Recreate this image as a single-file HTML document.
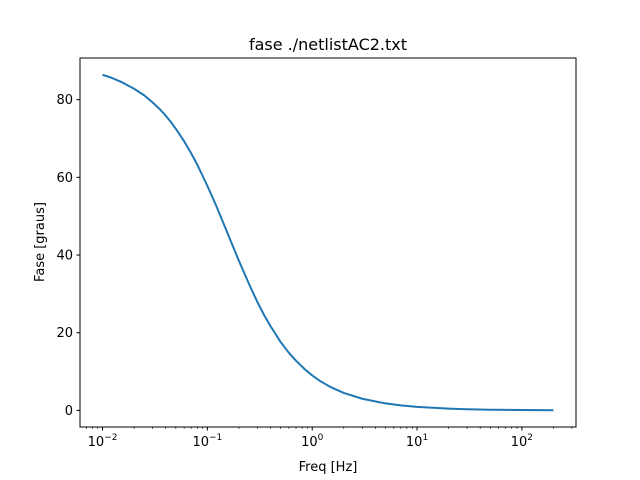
<!DOCTYPE html>
<html><head><meta charset="utf-8"><style>
body{margin:0;background:#fff;}
svg{display:block;font-family:"DejaVu Sans","Liberation Sans",sans-serif;}
</style></head><body>
<svg id="chart" width="640" height="480">
<rect width="640" height="480" fill="#fff"/>
<text x="328" y="50" font-size="16" text-anchor="middle">fase ./netlistAC2.txt</text>
<g id="ticks"></g>
<path id="curve" fill="none" stroke="#1f77b4" stroke-width="2" stroke-linejoin="round"/>
<rect x="80" y="58" width="496" height="369" fill="none" stroke="#000" stroke-width="1"/>
<text x="328" y="471" font-size="13" text-anchor="middle">Freq [Hz]</text>
<text transform="translate(44,242) rotate(-90)" font-size="13" text-anchor="middle">Fase [graus]</text>
</svg>
<script>
const freqs=[0.01,0.012,0.015,0.02,0.025,0.03,0.035,0.04,0.045,0.05,0.06,0.07,0.08,0.1,0.12,0.15,0.17,0.2,0.25,0.3,0.35,0.4,0.5,0.6,0.7,0.85,1,1.2,1.5,2,3,5,7,10,20,30,50,100,200];
const phase=[86.4,85.7,84.6,82.8,81.1,79.3,77.6,75.9,74.2,72.5,69.3,66.2,63.3,57.8,53.0,46.7,43.1,38.5,32.5,27.9,24.4,21.7,17.6,14.8,12.8,10.6,9.0,7.5,6.0,4.5,3.0,1.8,1.3,0.9,0.46,0.3,0.18,0.09,0.05];
const xTickExps=[-2,-1,0,1,2];
const yTicks=[0,20,40,60,80];
const L=80,R=576,T=58,B=427;
const xmin=-2.215,xmax=2.516,ymin=-4.27,ymax=90.72;
const X=f=>L+(Math.log10(f)-xmin)/(xmax-xmin)*(R-L);
const Y=v=>B-(v-ymin)/(ymax-ymin)*(B-T);
const NS="http://www.w3.org/2000/svg";
const g=document.getElementById('ticks');
function mk(t,a){const e=document.createElementNS(NS,t);for(const k in a)e.setAttribute(k,a[k]);g.appendChild(e);return e;}
for(const e of xTickExps){
  const x=X(Math.pow(10,e));
  const l=mk('line',{x1:x,x2:x,y1:B,y2:B+3.5,stroke:'#000'});
  
  
  const t=mk('text',{x:x,y:B+19,'font-size':13,'text-anchor':'middle'});
  
  
  t.textContent='10';
  const s=document.createElementNS(NS,'tspan');s.setAttribute('dy','-6');s.setAttribute('font-size','9');s.textContent=e<0?'\u2212'+(-e):''+e;t.appendChild(s);
}
for(let e=-3;e<=2;e++)for(let m=2;m<=9;m++){
  const f=m*Math.pow(10,e),lx=Math.log10(f);
  if(lx<xmin||lx>xmax)continue;
  const x=X(f);
  const l=mk('line',{x1:x,x2:x,y1:B,y2:B+2,stroke:'#000','stroke-width':0.6});
  
  
}
for(const v of yTicks){
  const y=Y(v);
  const l=mk('line',{x1:L-3.5,x2:L,y1:y,y2:y,stroke:'#000'});
  
  
  const t=mk('text',{x:L-7,y:y+4.5,'font-size':13,'text-anchor':'end'});
  
  
  t.textContent=v;
}
document.getElementById('curve').setAttribute('d',freqs.map((f,i)=>(i?'L':'M')+X(f).toFixed(2)+','+Y(phase[i]).toFixed(2)).join(''));
</script>
</body></html>
